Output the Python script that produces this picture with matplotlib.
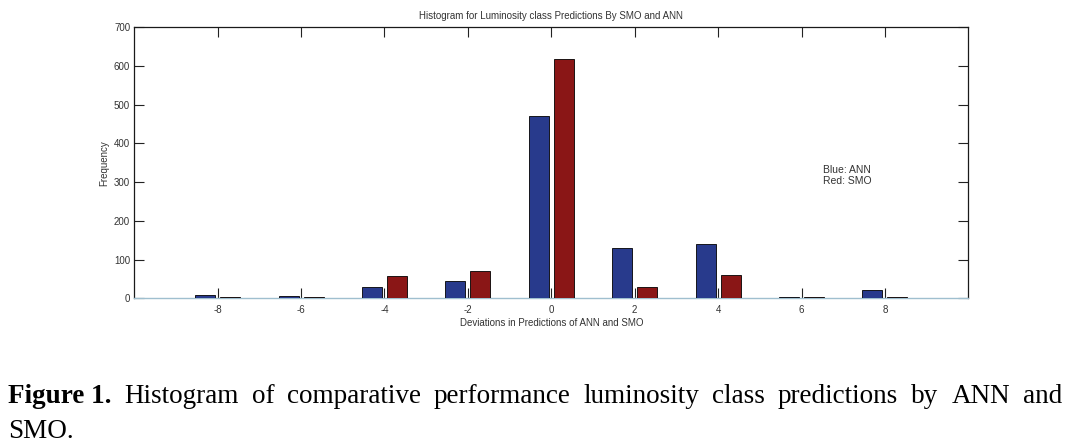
import matplotlib
matplotlib.use("Agg")
import matplotlib.pyplot as plt
import numpy as np

# ---- data ----
deviations = [-8, -6, -4, -2, 0, 2, 4, 6, 8]
ann_freq = [9, 5, 28, 45, 472, 129, 140, 3, 21]
smo_freq = [3, 3, 58, 70, 618, 30, 59, 3, 3]
x_ticks = [-8, -6, -4, -2, 0, 2, 4, 6, 8]
y_ticks = [0, 100, 200, 300, 400, 500, 600, 700]

title = "Histogram for Luminosity class Predictions By SMO and ANN"
xlabel = "Deviations in Predictions of ANN and SMO"
ylabel = "Frequency"
note = "Blue: ANN\nRed: SMO"
caption_bold = "Figure 1."
caption_line1 = "Histogram of comparative performance luminosity class predictions by ANN and"
caption_line2 = "SMO."

W, H = 1070, 446
fig = plt.figure(figsize=(W / 100, H / 100), dpi=100)
fig.patch.set_facecolor("white")

ax = fig.add_axes([134.3 / W, 1 - 298.3 / H, (968.3 - 134.3) / W, (298.3 - 27.3) / H])

sans = ["Liberation Sans", "DejaVu Sans"]
serif = ["Liberation Serif", "DejaVu Serif"]

x = np.array(deviations, dtype=float)
bw = 0.48
ax.bar(x - 0.3, ann_freq, width=bw, color="#283a8c", edgecolor="black", linewidth=0.6, zorder=3)
ax.bar(x + 0.3, smo_freq, width=bw, color="#8a1616", edgecolor="black", linewidth=0.6, zorder=3)

ax.set_xlim(-10, 10)
ax.set_ylim(0, 700)
ax.set_xticks(x_ticks)
ax.set_yticks(y_ticks)
ax.set_xticklabels([str(t) for t in x_ticks], fontsize=7, family=sans, color="#333333")
ax.set_yticklabels([str(t) for t in y_ticks], fontsize=7, family=sans, color="#333333")
ax.tick_params(direction="in", length=7, width=0.8, top=True, right=True, color="#222222")
ax.tick_params(axis="x", pad=5)
ax.tick_params(axis="y", pad=3)

for s in ["top", "left", "right"]:
    ax.spines[s].set_color("#1a1a1a")
    ax.spines[s].set_linewidth(0.9)
ax.spines["bottom"].set_color("#9fbfcf")
ax.spines["bottom"].set_linewidth(1.0)

ax.set_title(title, fontsize=7, family=sans, color="#333333", pad=6)
ax.set_xlabel(xlabel, fontsize=7, family=sans, color="#333333", labelpad=2)
ax.set_ylabel(ylabel, fontsize=7, family=sans, color="#333333", labelpad=3)

ax.text(823 / W, 1 - 165 / H, note, transform=fig.transFigure, fontsize=7.5,
        family=sans, color="#333333", va="top", ha="left", linespacing=1.1)

# ---- caption (justified first line) ----
fs_cap = 19.5
fig.canvas.draw()
renderer = fig.canvas.get_renderer()
y1 = 1 - 403 / H
y2 = 1 - 438 / H
x_left, x_right = 8 / W, 1062 / W

items = [(caption_bold, "bold")] + [(w, "normal") for w in caption_line1.split()]
texts = []
widths = []
for word, weight in items:
    t = fig.text(0, y1, word, fontsize=fs_cap, family=serif, fontweight=weight,
                 va="baseline", ha="left", color="black")
    bb = t.get_window_extent(renderer=renderer)
    texts.append(t)
    widths.append(bb.width / W)
total = sum(widths)
gap = (x_right - x_left - total) / (len(items) - 1)
pos = x_left
for t, w in zip(texts, widths):
    t.set_x(pos)
    pos += w + gap

fig.text(x_left, y2, caption_line2, fontsize=fs_cap, family=serif,
         va="baseline", ha="left", color="black")

fig.savefig("out.png", dpi=100, facecolor="white")
